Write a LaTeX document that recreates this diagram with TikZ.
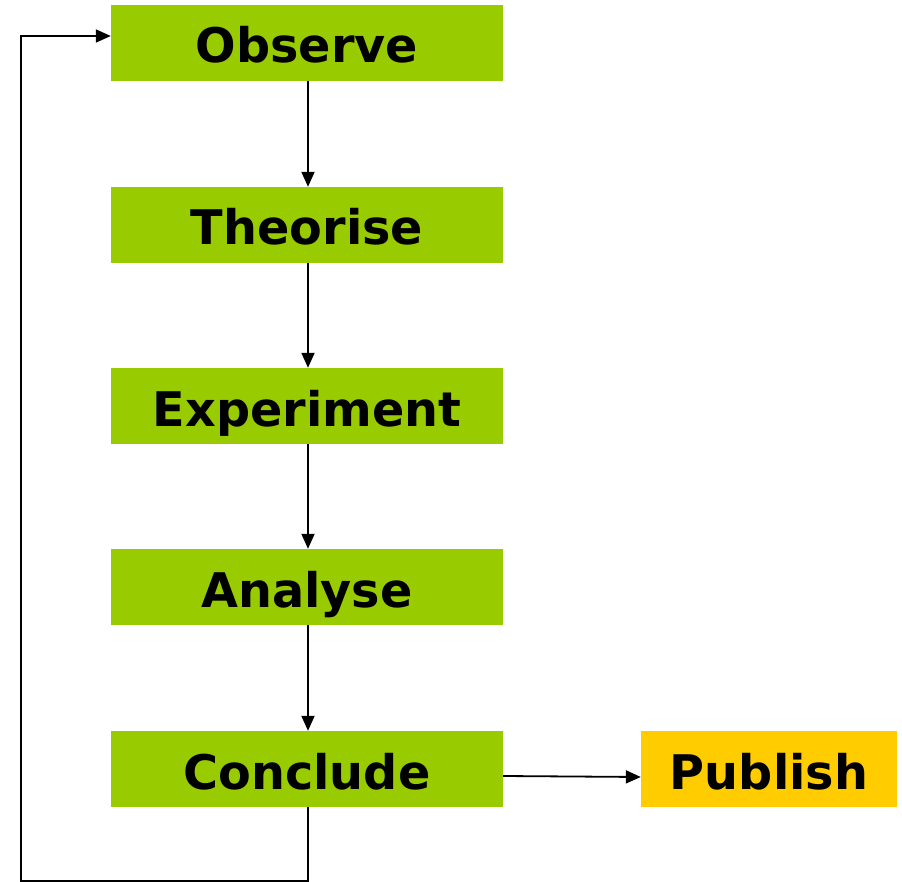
\documentclass[tikz,border=0pt]{standalone}
\usepackage{fontspec}
\setmainfont{DejaVu Sans}
\usetikzlibrary{arrows.meta}
\definecolor{stepgreen}{HTML}{99CC00}
\definecolor{pubyellow}{HTML}{FFCC00}
\begin{document}
\begin{tikzpicture}[x=1pt,y=-1pt,
  box/.style={fill=stepgreen, minimum width=392pt, minimum height=76pt, inner sep=0pt,
    text height=58pt, text depth=18pt,
    font=\fontsize{47.7}{50}\selectfont\bfseries},
  pubbox/.style={box, fill=pubyellow, minimum width=256pt},
  conn/.style={draw=black, line width=1.8pt, -{Triangle[length=15pt,width=13pt]}}]
\useasboundingbox (0,0) rectangle (902,882);
\node[box] (obs) at (307,43) {Observe};
\node[box] (the) at (307,225) {Theorise};
\node[box] (exp) at (307,406) {Experiment};
\node[box] (ana) at (307,587) {Analyse};
\node[box] (con) at (307,769) {Conclude};
\node[pubbox] (pub) at (769,769) {Publish};
\coordinate (c1) at (308,881);
\coordinate (c2) at (21,881);
\coordinate (c3) at (21,36);
\draw[conn] (obs.south -| 308,0) -- (the.north -| 308,0);
\draw[conn] (the.south -| 308,0) -- (exp.north -| 308,0);
\draw[conn] (exp.south -| 308,0) -- (ana.north -| 308,0);
\draw[conn] (ana.south -| 308,0) -- (con.north -| 308,0);
\draw[conn] (con.east |- 0,776) -- (pub.west |- 0,777);
\draw[conn] (con.south -| 308,0) -- (c1) -- (c2) -- (c3) -- (obs.west |- c3);
\end{tikzpicture}
\end{document}
